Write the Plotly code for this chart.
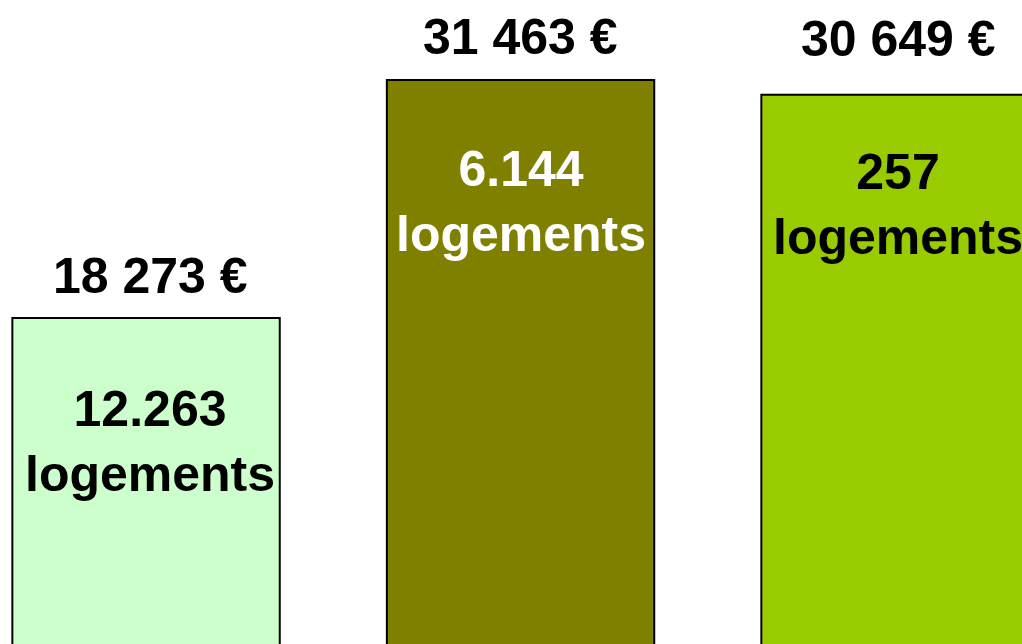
import plotly.graph_objects as go

categories = ["A", "B", "C"]
values = [18273, 31463, 30649]
value_labels = ["18 273 €", "31 463 €", "30 649 €"]
count_labels = ["12.263<br>logements", "6.144<br>logements", "257<br>logements"]
bar_colors = ["#CCFFCC", "#808000", "#99CC00"]
inner_text_colors = ["#000000", "#FFFFFF", "#000000"]
top_shift = [12.0, 12.6, 25.6]
inner_shift = [-60.5, -58.5, -47.5]
x_shift = [4, 0, 3]

FONT = "Liberation Sans, Arial, sans-serif"

fig = go.Figure()
fig.add_trace(go.Bar(
    x=categories, y=values,
    marker=dict(color=bar_colors, line=dict(color="#000000", width=2)),
    width=0.714, hoverinfo="skip",
))

for i, c in enumerate(categories):
    fig.add_annotation(
        x=c, y=values[i], text=value_labels[i], showarrow=False,
        xanchor="center", yanchor="bottom", yshift=top_shift[i], xshift=x_shift[i],
        font=dict(family=FONT, size=50, color="#000000", weight="bold"),
    )
    fig.add_annotation(
        x=c, y=values[i], text=count_labels[i], showarrow=False,
        xanchor="center", yanchor="top", yshift=inner_shift[i], xshift=x_shift[i],
        font=dict(family=FONT, size=50, color=inner_text_colors[i], weight="bold"),
    )

fig.update_layout(
    width=1022, height=644,
    margin=dict(l=0, r=0, t=0, b=0),
    paper_bgcolor="white", plot_bgcolor="white",
    showlegend=False,
    xaxis=dict(visible=False, range=[-0.390, 2.339]),
    yaxis=dict(visible=False, range=[206, 35897]),
)

fig.write_html(
    "out.html",
    config={"displayModeBar": False},
    post_script="document.body.style.margin='0';document.body.style.overflow='hidden';",
)
